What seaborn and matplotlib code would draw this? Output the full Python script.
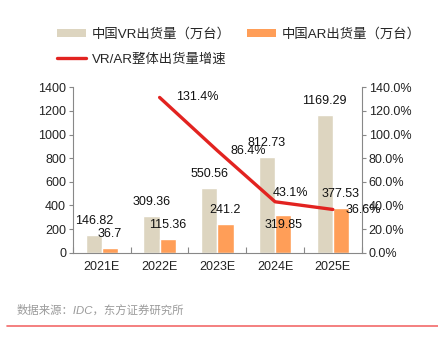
import matplotlib
matplotlib.use("Agg")
import matplotlib.pyplot as plt
import seaborn as sns
import numpy as np
import pandas as pd
from matplotlib.patches import Patch
from matplotlib.lines import Line2D
from matplotlib.ticker import FixedLocator, PercentFormatter

categories = ["2021E", "2022E", "2023E", "2024E", "2025E"]
vr_values = [146.82, 309.36, 550.56, 812.73, 1169.29]
ar_values = [36.7, 115.36, 241.2, 319.85, 377.53]
growth_values = [131.4, 86.4, 43.1, 36.6]  # 2022E..2025E
vr_name = "中国VR出货量（万台）"
ar_name = "中国AR出货量（万台）"
growth_name = "VR/AR整体出货量增速"
source_text = "数据来源：IDC，东方证券研究所"

sns.set_theme(style="white")
FAM = ["Liberation Sans", "Noto Sans CJK SC", "DejaVu Sans"]
plt.rcParams["font.family"] = FAM

VR_C = "#DDD5C0"
AR_C = "#FF9E58"
RED = "#E22320"
AX_C = "#888888"
FS = 9

df = pd.DataFrame({
    "cat": categories * 2,
    "val": vr_values + ar_values,
    "series": [vr_name] * len(categories) + [ar_name] * len(categories),
})

fig = plt.figure(figsize=(4.39, 3.41), dpi=100)
ax = fig.add_axes([73 / 439, 88.3 / 341, (361.7 - 73) / 439, (253.7 - 88.3) / 341])
sns.barplot(data=df, x="cat", y="val", hue="series", palette=[VR_C, AR_C],
            width=0.56, gap=0, ax=ax, legend=False, saturation=1)
ax.set_xlim(-0.5, 4.5)
ax.set_ylim(0, 1400)
ax.set_yticks(np.arange(0, 1401, 200))
ax.set_xlabel("")
ax.set_ylabel("")
ax.tick_params(axis="x", length=0, labelsize=FS, pad=6, colors="#222222")
ax.tick_params(axis="y", length=3, width=0.8, color=AX_C, labelsize=FS, pad=2, labelcolor="#222222")
ax.xaxis.set_minor_locator(FixedLocator(np.arange(-0.5, 4.6, 1)))
ax.tick_params(axis="x", which="minor", direction="in", length=4, width=0.8, color=AX_C, bottom=True)
for s in ["top", "right"]:
    ax.spines[s].set_visible(False)
for s in ["left", "bottom"]:
    ax.spines[s].set_color(AX_C)
    ax.spines[s].set_linewidth(0.8)

# data labels
px_per_unit = 165.4 / 1400
off = 14 / px_per_unit
bars_vr = ax.containers[0]
bars_ar = ax.containers[1]
for b, v in zip(bars_vr, vr_values):
    ax.text(b.get_x() + b.get_width() / 2, v + off, f"{v:g}", ha="center", va="center",
            fontsize=FS, color="#111111")
for i, (b, v) in enumerate(zip(bars_ar, ar_values)):
    y = v + off
    if i == 3:
        y = v - 10 / px_per_unit
    ax.text(b.get_x() + b.get_width() / 2, y, f"{v:g}", ha="center", va="center",
            fontsize=FS, color="#111111")

ax2 = ax.twinx()
xs = np.arange(1, len(categories))
sns.lineplot(x=xs, y=growth_values, ax=ax2, color=RED, linewidth=2.4, legend=False)
ax2.set_ylim(0, 140)
ax2.set_yticks(np.arange(0, 141, 20))
ax2.yaxis.set_major_formatter(PercentFormatter(decimals=1))
ax2.tick_params(axis="y", length=3, width=0.8, color=AX_C, labelsize=FS, pad=2, labelcolor="#222222")
for s in ["top", "left", "bottom"]:
    ax2.spines[s].set_visible(False)
ax2.spines["right"].set_color(AX_C)
ax2.spines["right"].set_linewidth(0.8)
ax2.grid(False)
ax.grid(False)
ax2.set_xlim(-0.5, 4.5)

label_offsets = [(16, 0), (13, 0), (-2, 8.5), (13, -0.5)]
for x, v, (dx, dy) in zip(xs, growth_values, label_offsets):
    ax2.annotate(f"{v}%", (x, v), xytext=(dx, dy), textcoords="offset pixels",
                 ha="left", va="center", fontsize=FS, color="#111111")

# legend
handles = [Patch(facecolor=VR_C, edgecolor="none"), Patch(facecolor=AR_C, edgecolor="none"),
           Line2D([], [], color=RED, linewidth=2.4)]
labels = [vr_name, ar_name, growth_name]
fig.legend(handles=handles[:2], labels=labels[:2], loc="upper left",
           bbox_to_anchor=(57 / 439, 1 - 28 / 341), ncol=2, frameon=False,
           fontsize=9.6, handlelength=2.2, handleheight=0.55, columnspacing=1.2,
           handletextpad=0.4, borderaxespad=0, borderpad=0)
fig.legend(handles=handles[2:], labels=labels[2:], loc="upper left",
           bbox_to_anchor=(57 / 439, 1 - 53 / 341), frameon=False,
           fontsize=9.6, handlelength=2.2, handletextpad=0.4, borderaxespad=0, borderpad=0)

fig.text(17 / 439, 1 - 310 / 341, source_text, ha="left", va="center", fontsize=8.2,
         color="#9A9A9A", style="italic")
fig.add_artist(Line2D([7 / 439, 438 / 439], [1 - 325.7 / 341] * 2, color="#F26A6A", linewidth=1.2))

fig.savefig("out.png", dpi=100)
